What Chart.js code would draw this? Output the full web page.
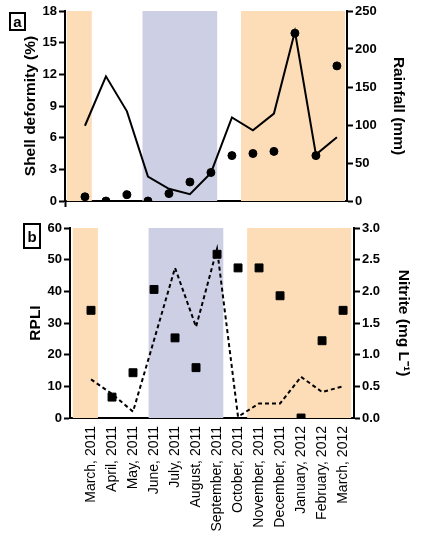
<!DOCTYPE html>
<html>
<head>
<meta charset="utf-8">
<script src="https://cdn.jsdelivr.net/npm/chart.js@4.4.1/dist/chart.umd.min.js"></script>
<style>
  body { margin: 0; background: #fff; font-family: "Liberation Sans", Arial, sans-serif; }
  #wrap { position: relative; width: 428px; height: 550px; overflow: hidden; }
  .panel { position: absolute; left: 0; width: 428px; }
  #panelA { top: 0; height: 215px; }
  #panelB { top: 215px; height: 335px; }
  .tag { position: absolute; border: 2px solid #000; box-sizing: border-box; font-weight: bold;
         font-size: 15px; display: flex; align-items: center; justify-content: center; }
</style>
</head>
<body>
<div id="wrap">
  <div class="panel" id="panelA"><canvas id="chartA"></canvas></div>
  <div class="panel" id="panelB"><canvas id="chartB"></canvas></div>
  <div class="tag" style="left:9px;top:12px;width:17px;height:19px;">a</div>
  <div class="tag" style="left:23px;top:223px;width:18px;height:26px;">b</div>
</div>
<script>
// months sampled
const months = ['March, 2011', 'April, 2011', 'May, 2011', 'June, 2011', 'July, 2011', 'August, 2011',
  'September, 2011', 'October, 2011', 'November, 2011', 'December, 2011', 'January, 2012',
  'February, 2012', 'March, 2012'];

// panel a
const shellDeformity = [0.4, 0, 0.6, 0, 0.7, 1.8, 2.7, 4.3, 4.5, 4.7, 15.9, 4.3, 12.8];
const rainfall = [99, 164, 118, 32, 16, 9, 37, 110, 93, 115, 223, 61, 84];

// panel b
const rpli = [34, 6.6, 14.3, 40.6, 25.3, 15.9, 51.7, 47.4, 47.4, 38.6, 0, 24.4, 34];
const nitrite = [0.61, 0.38, 0.1, 1.23, 2.37, 1.44, 2.67, 0.02, 0.23, 0.23, 0.65, 0.41, 0.5];

// shaded seasons (in month index units)
const bandStart = [-0.88, 2.73, 7.43];
const bandEnd = [0.33, 6.31, 12.4];
const bandColors = ['#fddcb8', '#cdd0e5', '#fddcb8'];

const FONT = "'Liberation Sans', Arial, sans-serif";
const tickFont = { family: FONT, size: 13, weight: 'bold' };
const monthFont = { family: FONT, size: 14, weight: 'normal' };
const titleFont = { family: FONT, size: 15.5, weight: 'bold' };

function points(values) {
    return values.map((v, i) => ({ x: i, y: v }));
}

function bandSets(top) {
    return bandStart.map((s, i) => ({
        data: [{ x: s, y: top }, { x: bandEnd[i], y: top }],
        yAxisID: 'y',
        fill: 'origin',
        backgroundColor: bandColors[i],
        borderWidth: 0,
        pointRadius: 0,
        order: 10
    }));
}

function yScale(opts) {
    return {
        type: 'linear',
        position: opts.position,
        min: 0,
        max: opts.max,
        afterBuildTicks: s => { s.ticks = opts.ticks.map(v => ({ value: v })); },
        afterFit: s => { s.width = opts.width; },
        border: { display: true, color: '#000', width: 2 },
        grid: { drawOnChartArea: false, drawTicks: true, tickLength: 6, tickWidth: 2, tickColor: '#000' },
        ticks: { color: '#000', font: tickFont, padding: 2, callback: opts.fmt || (v => v) },
        title: { display: true, text: opts.title, color: '#000', font: titleFont, padding: { top: opts.tpad, bottom: 0 } }
    };
}

// Panel a: shell deformity and rainfall
new Chart(document.getElementById('chartA'), {
    type: 'line',
    data: {
        datasets: [
            {
                data: points(shellDeformity),
                yAxisID: 'y',
                showLine: false,
                pointStyle: 'circle',
                pointRadius: 4,
                backgroundColor: '#000',
                borderColor: '#000',
                order: 0
            },
            {
                data: points(rainfall),
                yAxisID: 'y2',
                borderColor: '#000',
                borderWidth: 2,
                pointRadius: 0,
                fill: false,
                tension: 0,
                order: 1
            },
            ...bandSets(18)
        ]
    },
    options: {
        responsive: true,
        maintainAspectRatio: false,
        animation: false,
        layout: { padding: { top: 11, left: 0, right: 0, bottom: 0 } },
        plugins: { legend: { display: false }, tooltip: { enabled: false } },
        scales: {
            x: {
                type: 'linear',
                min: -0.95,
                max: 12.48,
                z: 1,
                afterBuildTicks: s => { s.ticks = [{ value: -0.95 }]; },
                afterFit: s => { s.height = 14; },
                border: { display: true, color: '#000', width: 2 },
                grid: { drawOnChartArea: false, drawTicks: true, tickLength: 6, tickWidth: 2, tickColor: '#000' },
                ticks: { display: false }
            },
            y: yScale({ position: 'left', max: 18, ticks: [0, 3, 6, 9, 12, 15, 18], width: 65, title: 'Shell deformity (%)', tpad: 21 }),
            y2: yScale({ position: 'right', max: 250, ticks: [0, 50, 100, 150, 200, 250], width: 81, title: 'Rainfall (mm)', tpad: 20 })
        }
    }
});

// Panel b: RPLI and nitrite
new Chart(document.getElementById('chartB'), {
    type: 'line',
    data: {
        datasets: [
            {
                data: points(rpli),
                yAxisID: 'y',
                showLine: false,
                pointStyle: 'rect',
                pointRadius: 5.6,
                backgroundColor: '#000',
                borderColor: '#000',
                order: 0
            },
            {
                data: points(nitrite),
                yAxisID: 'y2',
                borderColor: '#000',
                borderWidth: 2,
                borderDash: [4, 3],
                pointRadius: 0,
                fill: false,
                tension: 0,
                order: 1
            },
            ...bandSets(60)
        ]
    },
    options: {
        responsive: true,
        maintainAspectRatio: false,
        animation: false,
        layout: { padding: { top: 13, left: 0, right: 0, bottom: 0 } },
        plugins: { legend: { display: false }, tooltip: { enabled: false } },
        scales: {
            x: {
                type: 'linear',
                min: -1,
                max: 12.52,
                z: 1,
                afterBuildTicks: s => { s.ticks = months.map((m, i) => ({ value: i })); },
                afterFit: s => { s.height = 132; },
                border: { display: true, color: '#000', width: 2 },
                grid: { drawOnChartArea: false, drawTicks: false },
                ticks: {
                    color: '#000',
                    font: monthFont,
                    padding: 8,
                    autoSkip: false,
                    minRotation: 90,
                    maxRotation: 90,
                    callback: v => months[v]
                }
            },
            y: yScale({ position: 'left', max: 60, ticks: [0, 10, 20, 30, 40, 50, 60], width: 70, title: 'RPLI', tpad: 26 }),
            y2: yScale({ position: 'right', max: 3, ticks: [0, 0.5, 1, 1.5, 2, 2.5, 3], width: 74, title: 'Nitrite (mg L⁻¹)', tpad: 15, fmt: v => v.toFixed(1) })
        }
    }
});
</script>
</body>
</html>
